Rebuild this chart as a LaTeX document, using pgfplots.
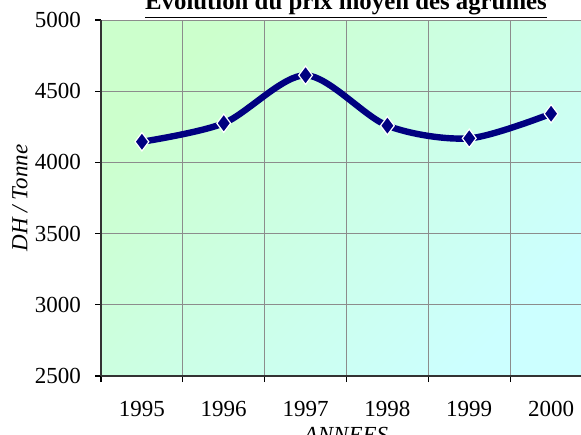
\documentclass[border=0pt]{standalone}
\usepackage{fontspec}
\setmainfont{Liberation Serif}
\usepackage{pgfplots}
\pgfplotsset{compat=1.18}

\definecolor{navyline}{RGB}{0,0,128}
\definecolor{bggreen}{RGB}{204,255,204}
\definecolor{bgcyan}{RGB}{204,255,255}
\definecolor{gridgray}{RGB}{140,140,140}

\begin{document}
\begin{tikzpicture}
\begin{axis}[
name=ax,
scale only axis,
width=240pt, height=178pt,
xmin=-0.5, xmax=5.366,
ymin=2500, ymax=5000,
axis x line*=bottom,
axis y line*=left,
axis line style={line width=0.8pt, color=black!80},
axis background/.style={top color=bggreen, bottom color=bgcyan, shading angle=45},
xtick={0,1,2,3,4,5},
xticklabels={1995,1996,1997,1998,1999,2000},
major x tick style={draw=none},
minor xtick={-0.5,0.5,1.5,2.5,3.5,4.5},
minor x tick style={color=black, line width=0.6pt},
minor tick length=3pt,
xminorgrids,
ytick={2500,3000,3500,4000,4500,5000},
ymajorgrids,
ytick style={color=black, line width=0.6pt},
major tick length=3pt,
tick align=outside,
grid style={gridgray, line width=0.5pt},
minor grid style={gridgray, line width=0.5pt},
tick label style={font=\fontsize{11.5}{13}\selectfont},
/pgf/number format/assume math mode=true,
/pgf/number format/1000 sep={},
xticklabel style={yshift=-6pt},
yticklabel style={xshift=-3.5pt},
xlabel={\textit{ANNEES}},
xlabel style={font=\fontsize{11.5}{13}\selectfont, at={(axis description cs:0.5,0)}, anchor=north, yshift=-22pt, xshift=2.5pt},
clip=false,
]
\addplot [navyline, line width=3.2pt, smooth, tension=0.5, mark=diamond*, mark size=4.6pt,
  mark options={fill=navyline, draw=white, line width=0.6pt}]
table {%
0 4145
1 4275
2 4612
3 4258
4 4169
5 4342
};
\end{axis}
\node[anchor=base, font=\bfseries\fontsize{12.4}{14}\selectfont] at ([xshift=2.5pt,yshift=5.5pt]ax.north) {\underline{Evolution du prix moyen des agrumes}};
\node[rotate=90, font=\itshape\fontsize{11.5}{13}\selectfont] at ([xshift=-40.5pt]ax.west) {DH / Tonne};
\pgfresetboundingbox
\path ([xshift=-50.5pt,yshift=-29pt]ax.south west) rectangle ([yshift=10pt]ax.north east);
\end{tikzpicture}
\end{document}
